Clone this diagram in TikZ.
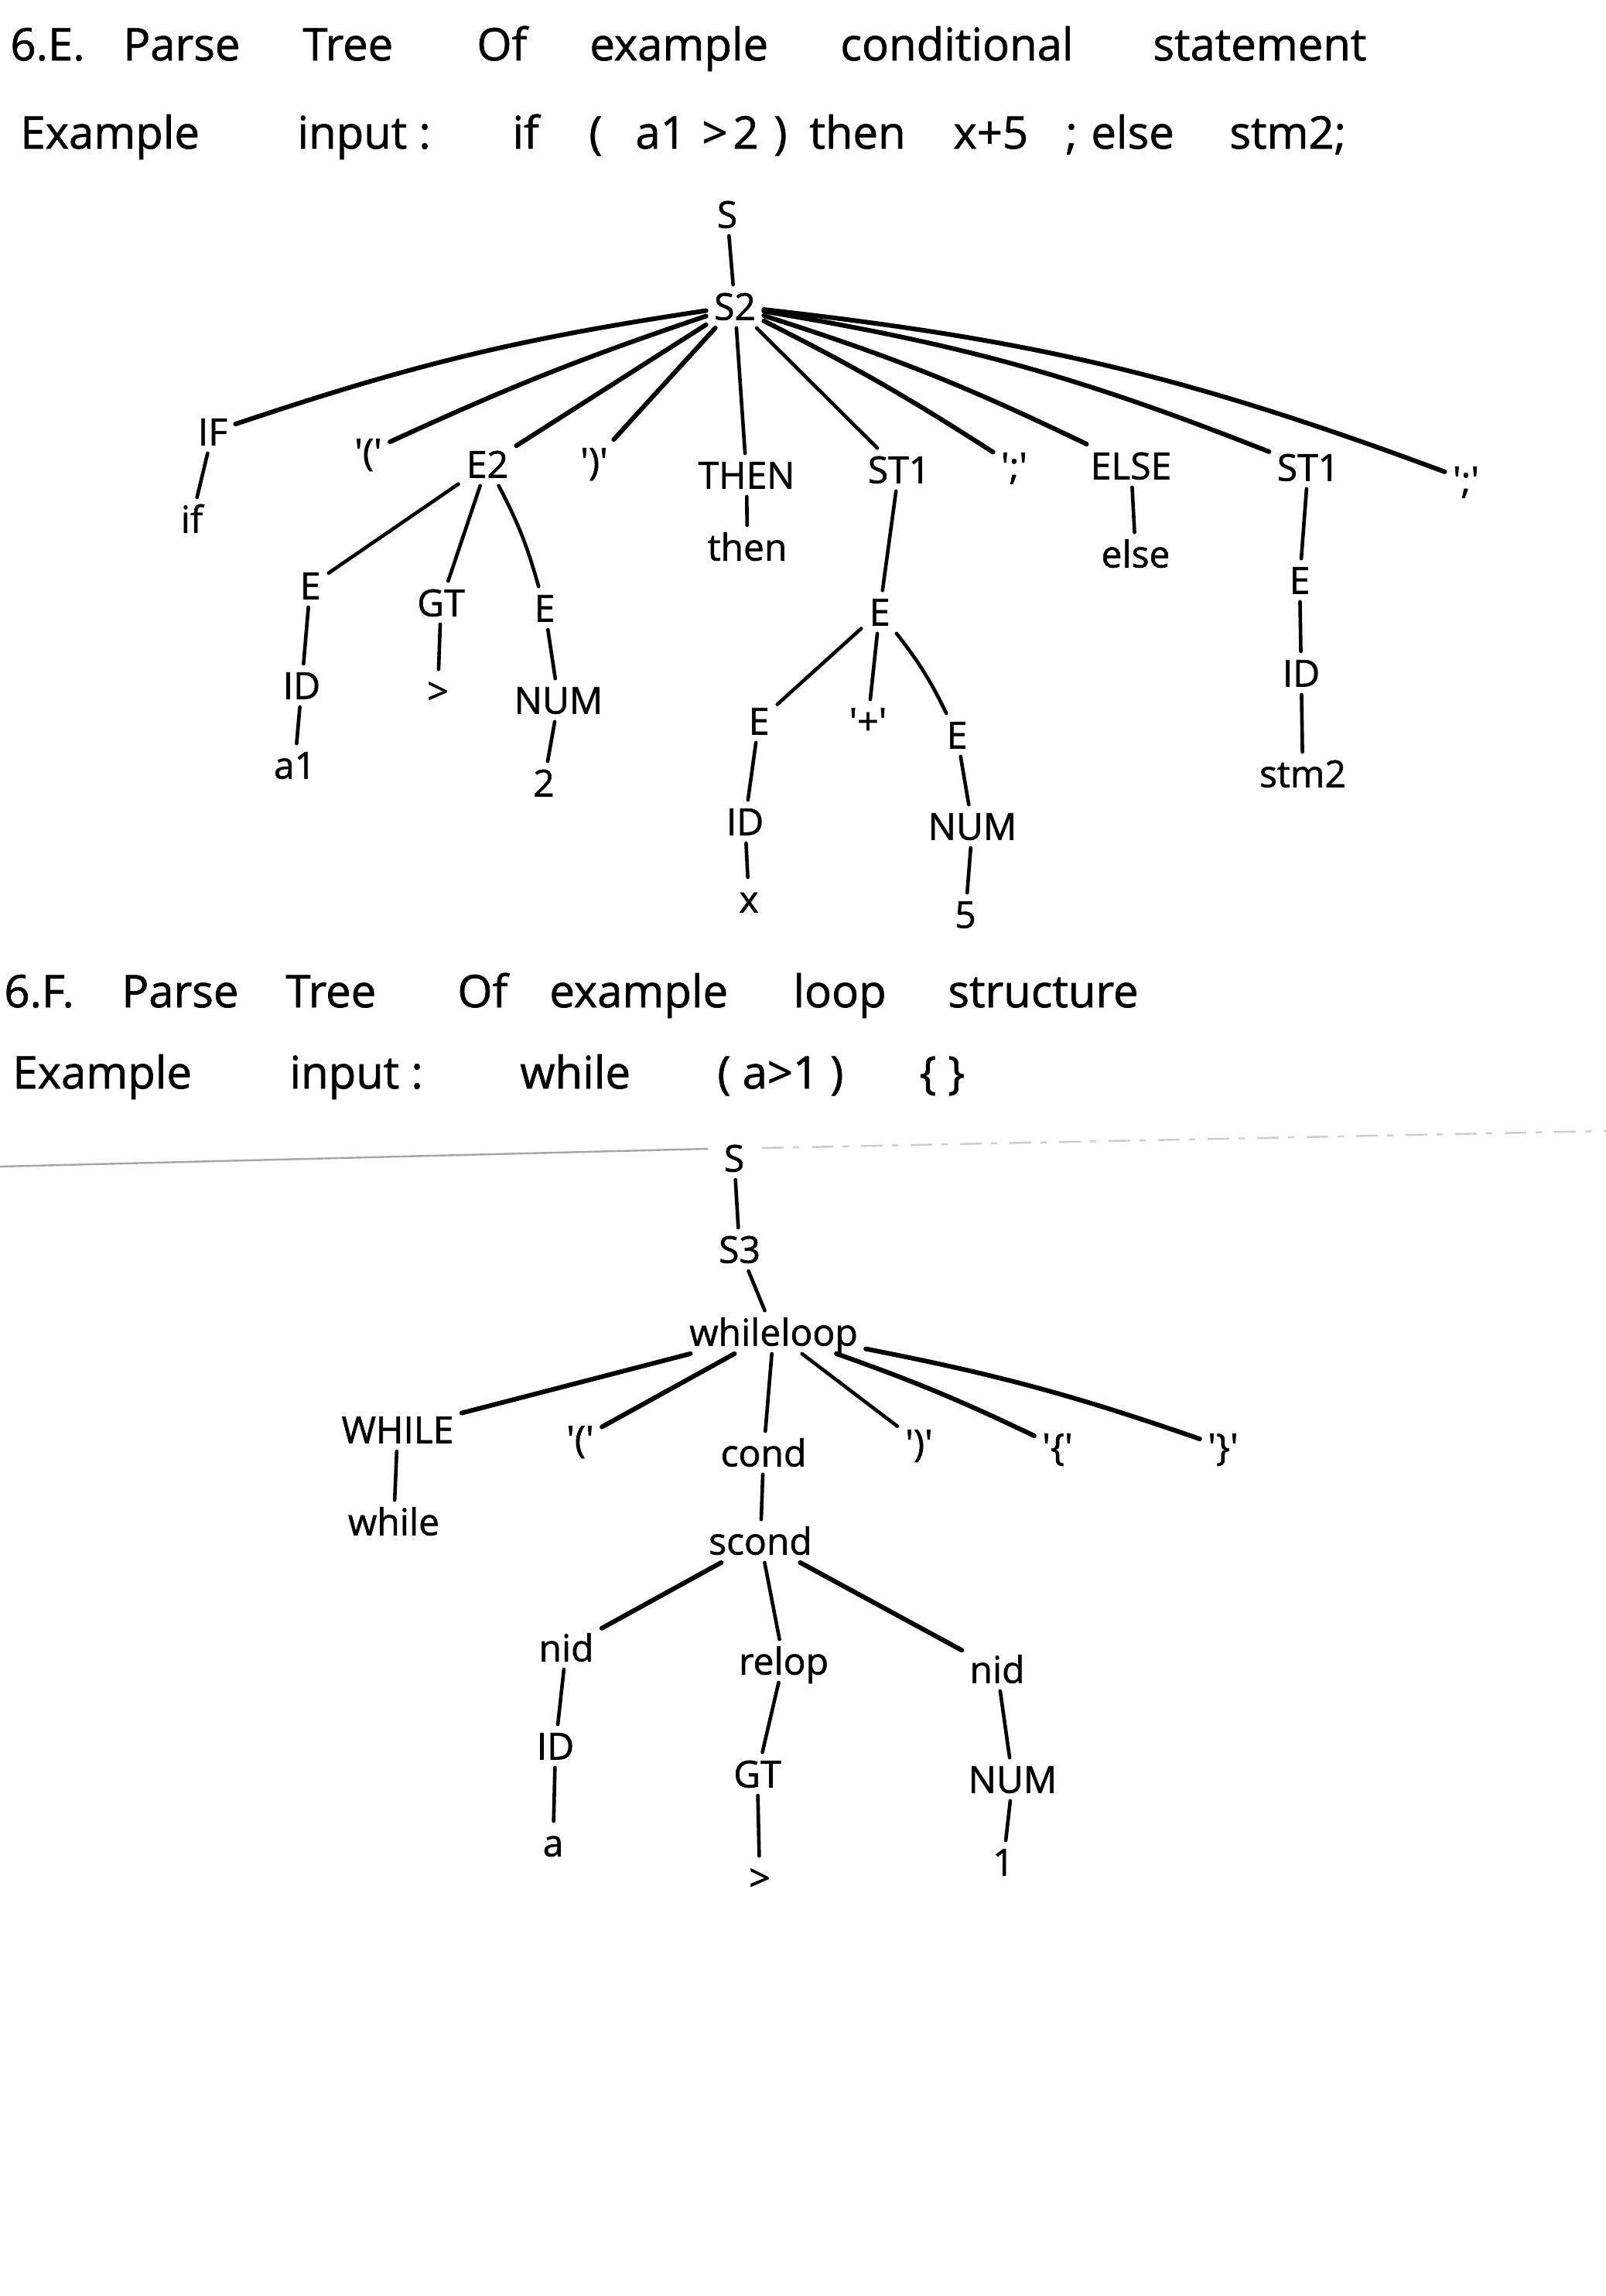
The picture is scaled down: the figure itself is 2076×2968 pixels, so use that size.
\documentclass[tikz,border=0pt]{standalone}
\usepackage{fontspec}
\newfontfamily\hand[FakeBold=1.2]{Open Sans}
\begin{document}
\begin{tikzpicture}[x=0.5pt,y=-0.5pt,
  lbl/.style={font=\hand\fontsize{24}{28}\selectfont, inner sep=5pt, text height=17.5pt, text depth=0pt},
  ttl/.style={font=\hand\fontsize{29}{34}\selectfont, anchor=base west, inner sep=0pt},
  tline/.style={line width=2.3pt, line cap=round},
  fanline/.style={line width=3pt, line cap=round},
  scanline/.style={line width=1.2pt, black!35}]
\useasboundingbox (0,0) rectangle (2076,2968);
\fill[white] (0,0) rectangle (2076,2968);

% ---------- heading 6.E ----------
\node[ttl] (h1a) at (13,78) {6.E.};
\node[ttl] (h1b) at (159,78) {Parse};
\node[ttl] (h1c) at (391,78) {Tree};
\node[ttl] (h1d) at (616,78) {Of};
\node[ttl] (h1e) at (762,78) {example};
\node[ttl] (h1f) at (1086,78) {conditional};
\node[ttl] (h1g) at (1490,78) {statement};

\node[ttl] (i1a) at (26,192) {Example};
\node[ttl] (i1b) at (384,192) {input :};
\node[ttl] (i1c) at (662,192) {if};
\node[ttl] (i1d) at (761,192) {(};
\node[ttl] (i1e) at (821,192) {a1};
\node[ttl] (i1f) at (907,192) {>};
\node[ttl] (i1g) at (947,192) {2};
\node[ttl] (i1h) at (1000,192) {)};
\node[ttl] (i1i) at (1046,192) {then};
\node[ttl] (i1j) at (1232,192) {x+5};
\node[ttl] (i1k) at (1377,192) {;};
\node[ttl] (i1l) at (1410,192) {else};
\node[ttl] (i1m) at (1589,192) {stm2;};

% ---------- tree 1 ----------
\node[lbl] (S) at (940,277) {S};
\node[lbl] (S2) at (950,396) {S2};
\node[lbl] (IF) at (275,558) {IF};
\node[lbl] (if) at (248,671) {if};
\node[lbl] (lp1) at (476,584) {'('};
\node[lbl] (E2) at (630,600) {E2};
\node[lbl] (rp1) at (768,596) {')'};
\node[lbl] (THEN) at (965,614) {THEN};
\node[lbl] (then) at (966,707) {then};
\node[lbl] (ST1a) at (1162,607) {ST1};
\node[lbl] (sc1) at (1311,602) {';'};
\node[lbl] (ELSE) at (1462,602) {ELSE};
\node[lbl] (else) at (1468,716) {else};
\node[lbl] (ST1b) at (1691,604) {ST1};
\node[lbl] (sc2) at (1895,620) {';'};
\node[lbl] (Ea) at (401,757) {E};
\node[lbl] (GTa) at (570,779) {GT};
\node[lbl] (Eb) at (704,786) {E};
\node[lbl] (IDa) at (390,886) {ID};
\node[lbl] (gt1) at (566,893) {>};
\node[lbl] (NUMa) at (722,905) {NUM};
\node[lbl] (a1) at (381,989) {a1};
\node[lbl] (two) at (703,1012) {2};
\node[lbl] (Ec) at (1137,791) {E};
\node[lbl] (Ed) at (981,932) {E};
\node[lbl] (plus) at (1122,932) {'+'};
\node[lbl] (Ee) at (1237,950) {E};
\node[lbl] (IDb) at (963,1062) {ID};
\node[lbl] (x) at (968,1162) {x};
\node[lbl] (NUMb) at (1257,1068) {NUM};
\node[lbl] (five) at (1248,1182) {5};
\node[lbl] (Ef) at (1680,750) {E};
\node[lbl] (IDc) at (1682,870) {ID};
\node[lbl] (stm2) at (1684,1000) {stm2};

\draw[tline] (S) -- (S2);
\draw[fanline] (S2) to[bend right=5] (IF);
\draw[fanline] (S2) to[bend right=3] (lp1);
\draw[fanline] (S2) -- (E2);
\draw[fanline] (S2) -- (rp1);
\draw[tline] (S2) -- (THEN);
\draw[tline] (S2) -- (ST1a);
\draw[fanline] (S2) to[bend left=3] (sc1);
\draw[fanline] (S2) to[bend left=4] (ELSE);
\draw[fanline] (S2) to[bend left=6] (ST1b);
\draw[fanline] (S2) to[bend left=7] (sc2);
\draw[tline] (IF) -- (if);
\draw[tline] (E2) -- (Ea);
\draw[tline] (E2) -- (GTa);
\draw[tline] (E2) to[bend left=6] (Eb);
\draw[tline] (Ea) -- (IDa);
\draw[tline] (IDa) -- (a1);
\draw[tline] (GTa) -- (gt1);
\draw[tline] (Eb) -- (NUMa);
\draw[tline] (NUMa) -- (two);
\draw[tline] (THEN) -- (then);
\draw[tline] (ST1a) -- (Ec);
\draw[tline] (Ec) -- (Ed);
\draw[tline] (Ec) -- (plus);
\draw[tline] (Ec) to[bend left=6] (Ee);
\draw[tline] (Ed) -- (IDb);
\draw[tline] (IDb) -- (x);
\draw[tline] (Ee) -- (NUMb);
\draw[tline] (NUMb) -- (five);
\draw[tline] (ELSE) -- (else);
\draw[tline] (ST1b) -- (Ef);
\draw[tline] (Ef) -- (IDc);
\draw[tline] (IDc) -- (stm2);

% ---------- heading 6.F ----------
\node[ttl] (h2a) at (5,1302) {6.F.};
\node[ttl] (h2b) at (157,1302) {Parse};
\node[ttl] (h2c) at (369,1302) {Tree};
\node[ttl] (h2d) at (591,1302) {Of};
\node[ttl] (h2e) at (710,1302) {example};
\node[ttl] (h2f) at (1025,1302) {loop};
\node[ttl] (h2g) at (1225,1302) {structure};

\node[ttl] (i2a) at (16,1407) {Example};
\node[ttl] (i2b) at (374,1407) {input :};
\node[ttl] (i2c) at (672,1407) {while};
\node[ttl] (i2d) at (927,1407) {( a>1 )};
\node[ttl] (i2e) at (1188,1407) {\{ \}};

% scan artefact lines
\coordinate (sl1) at (0,1508);
\coordinate (sl2) at (915,1485);
\coordinate (sr1) at (985,1484);
\coordinate (sr2) at (2076,1462);
\draw[scanline] (sl1) -- (sl2);
\draw[scanline, black!20, dash pattern=on 14pt off 6pt on 4pt off 8pt] (sr1) -- (sr2);

% ---------- tree 2 ----------
\node[lbl] (Sb) at (949,1497) {S};
\node[lbl] (S3) at (956,1615) {S3};
\node[lbl] (WL) at (1000,1722) {whileloop};
\node[lbl] (WHILE) at (514,1848) {WHILE};
\node[lbl] (while) at (509,1967) {while};
\node[lbl] (lp2) at (750,1860) {'('};
\node[lbl] (cond) at (987,1878) {cond};
\node[lbl] (rp2) at (1188,1865) {')'};
\node[lbl] (lb) at (1367,1870) {'\{'};
\node[lbl] (rb) at (1581,1870) {'\}'};
\node[lbl] (scond) at (983,1992) {scond};
\node[lbl] (nid1) at (732,2130) {nid};
\node[lbl] (relop) at (1013,2147) {relop};
\node[lbl] (nid2) at (1289,2158) {nid};
\node[lbl] (IDd) at (718,2257) {ID};
\node[lbl] (GTb) at (979,2293) {GT};
\node[lbl] (NUMc) at (1309,2300) {NUM};
\node[lbl] (a) at (715,2382) {a};
\node[lbl] (gt2) at (982,2427) {>};
\node[lbl] (one) at (1297,2407) {1};

\draw[tline] (Sb) -- (S3);
\draw[tline] (S3) -- (WL);
\draw[fanline] (WL) -- (WHILE);
\draw[fanline] (WL) -- (lp2);
\draw[tline] (WL) -- (cond);
\draw[tline] (WL) -- (rp2);
\draw[fanline] (WL) to[bend left=3] (lb);
\draw[fanline] (WL) to[bend left=4] (rb);
\draw[tline] (WHILE) -- (while);
\draw[tline] (cond) -- (scond);
\draw[fanline] (scond) -- (nid1);
\draw[tline] (scond) -- (relop);
\draw[fanline] (scond) -- (nid2);
\draw[tline] (nid1) -- (IDd);
\draw[tline] (IDd) -- (a);
\draw[tline] (relop) -- (GTb);
\draw[tline] (GTb) -- (gt2);
\draw[tline] (nid2) -- (NUMc);
\draw[tline] (NUMc) -- (one);
\end{tikzpicture}
\end{document}
